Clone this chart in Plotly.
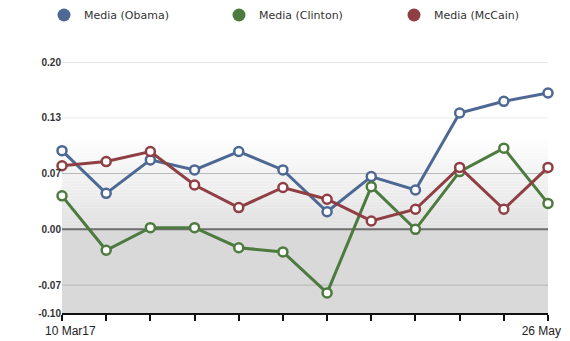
import plotly.graph_objects as go

# ---- data ----
x_index = list(range(12))
x_tick_labels = ["10 Mar17", "", "", "", "", "", "", "", "", "", "", "26 May"]

obama = [0.094, 0.043, 0.083, 0.071, 0.093, 0.071, 0.021, 0.063, 0.047, 0.139, 0.153, 0.163]
clinton = [0.040, -0.025, 0.002, 0.002, -0.022, -0.027, -0.076, 0.051, 0.000, 0.069, 0.097, 0.031]
mccain = [0.076, 0.081, 0.093, 0.053, 0.026, 0.050, 0.036, 0.010, 0.024, 0.074, 0.024, 0.074]

series_names = ["Media (Obama)", "Media (Clinton)", "Media (McCain)"]
series_colors = ["#4c6893", "#4d7a3e", "#8f3f43"]

y_tick_vals = [-0.1, -0.0667, 0.0, 0.0667, 0.1333, 0.2]
y_tick_labels = ["-0.10", "-0.07", "0.00", "0.07", "0.13", "0.20"]
grid_colors = [None, "#b4b4b4", "#6e6e6e", "#b8b8b8", "#ececec", "#cfcfcf"]

fig = go.Figure()

for name, vals, col in zip(series_names, [obama, clinton, mccain], series_colors):
    fig.add_trace(go.Scatter(
        x=x_index, y=vals, mode="lines+markers", name=name, showlegend=False,
        line=dict(color=col, width=3),
        marker=dict(symbol="circle", size=9, color="white", line=dict(color=col, width=2.5)),
        cliponaxis=False,
    ))
    # legend entry: filled circle only
    fig.add_trace(go.Scatter(
        x=[None], y=[None], mode="markers", name=name,
        marker=dict(symbol="circle", size=13, color=col),
    ))

# background gradient (white -> light gray towards zero, flat gray below zero)
shapes = []
n = 30
top, bot = 0.11, 0.0
for i in range(n):
    y0 = top - (top - bot) * i / n
    y1 = top - (top - bot) * (i + 1) / n
    t = (i + 0.5) / n
    g = int(round(255 - (255 - 224) * t))
    shapes.append(dict(type="rect", xref="paper", yref="y", x0=0, x1=1, y0=y1, y1=y0,
                       fillcolor=f"rgb({g},{g},{g})", line=dict(width=0), layer="below"))
shapes.append(dict(type="rect", xref="paper", yref="y", x0=0, x1=1, y0=-0.1, y1=0.0,
                   fillcolor="rgb(217,217,217)", line=dict(width=0), layer="below"))
# horizontal grid lines at the tick values
for v, c in zip(y_tick_vals, grid_colors):
    if c is None:
        continue
    shapes.append(dict(type="line", xref="paper", yref="y", x0=0, x1=1, y0=v, y1=v,
                       line=dict(color=c, width=2 if v == 0 else 1), layer="below"))

# nudge the end labels the way the reference places them (first one right, last one left)
NB = "\u00a0"
x_tick_text = list(x_tick_labels)
x_tick_text[0] = NB * 5 + x_tick_text[0]
x_tick_text[-1] = x_tick_text[-1] + NB * 4

# the page body adds an 8px offset, so the figure is 8px smaller than the window
W, H = 562, 333
ML, MR, MT, MB = 54, 22, 54, 28
PW, PH = W - ML - MR, H - MT - MB

fig.update_layout(
    width=W, height=H,
    margin=dict(l=ML, r=MR, t=MT, b=MB, autoexpand=False),
    paper_bgcolor="white", plot_bgcolor="white",
    shapes=shapes,
    showlegend=True,
    legend=dict(
        orientation="h", xref="paper", yref="paper",
        x=(36 - ML) / PW, y=1 + (MT - 7) / PH, xanchor="left", yanchor="middle",
        entrywidth=130, entrywidthmode="pixels",
        font=dict(family="DejaVu Sans", size=11, color="#333333"),
        bgcolor="rgba(0,0,0,0)",
    ),
    xaxis=dict(
        range=[0, 11], tickmode="array", tickvals=x_index, ticktext=x_tick_text,
        ticklabeloverflow="allow",
        showgrid=False, zeroline=False,
        showline=True, linecolor="#111111", linewidth=2,
        ticks="outside", ticklen=6, tickwidth=2, tickcolor="#111111",
        tickfont=dict(family="Liberation Sans", size=12, color="#222222"),
        fixedrange=True,
    ),
    yaxis=dict(
        range=[-0.1, 0.2], tickmode="array", tickvals=y_tick_vals, ticktext=y_tick_labels,
        showgrid=False, zeroline=False,
        showline=False, ticks="",
        tickfont=dict(family="Liberation Sans", size=10, color="#333333", weight="bold"),
        fixedrange=True,
    ),
)

fig.write_html("out.html")
